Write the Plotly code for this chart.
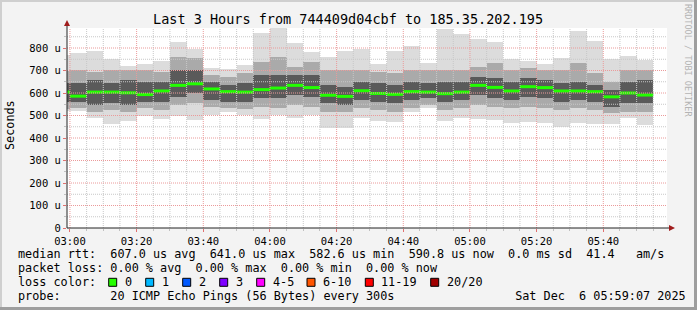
import pandas as pd
import plotly.graph_objects as go

# ---------------- data (microseconds) ----------------
bin_starts = pd.date_range("2025-12-06 02:55", periods=36, freq="5min")
median = [604, 586, 604, 604, 601, 593, 609, 634, 641, 618, 606,
          604, 615, 622, 634, 624, 590, 585, 610, 598, 594,
          606, 604, 597, 604, 634, 625, 609, 628, 624, 609,
          609, 606, 583, 600, 591]
p_max = [770, 776, 788, 750, 721, 730, 744, 828, 796, 712, 706,
         726, 868, 890, 824, 784, 761, 787, 796, 730, 787,
         809, 735, 884, 862, 840, 827, 750, 744, 730, 756,
         876, 831, 751, 766, 745]
p_hi2 = [700, 702, 695, 702, 702, 702, 695, 761, 754, 680, 673,
         687, 739, 761, 717, 739, 702, 702, 702, 695, 687,
         702, 702, 702, 702, 717, 732, 702, 710, 702, 702,
         732, 687, 650, 702, 702]
p_hi1 = [645, 643, 658, 643, 658, 650, 650, 702, 702, 650, 636,
         643, 680, 680, 680, 680, 636, 628, 650, 643, 636,
         650, 643, 650, 650, 673, 665, 650, 665, 658, 643,
         650, 636, 613, 650, 658]
p_lo1 = [560, 561, 547, 554, 547, 561, 561, 584, 599, 569, 561,
         561, 576, 576, 591, 584, 554, 547, 569, 561, 554,
         569, 576, 561, 569, 591, 576, 569, 584, 576, 561,
         569, 561, 539, 554, 554]
p_lo2 = [530, 532, 517, 524, 517, 532, 524, 547, 554, 539, 532,
         527, 539, 532, 547, 539, 517, 517, 532, 524, 517,
         532, 547, 524, 532, 547, 539, 532, 539, 532, 524,
         532, 524, 510, 517, 517]
p_min = [520, 520, 490, 462, 476, 499, 486, 496, 480, 501, 517,
         502, 486, 501, 489, 501, 443, 443, 490, 476, 471,
         517, 532, 476, 490, 486, 480, 468, 471, 468, 449,
         468, 462, 462, 487, 458]

y_tick_vals = [0, 100, 200, 300, 400, 500, 600, 700, 800]
y_tick_text = ["0", "100 u", "200 u", "300 u", "400 u", "500 u", "600 u", "700 u", "800 u"]

title_text = "Last 3 Hours from 744409d04cbf to 185.35.202.195"
loss_labels = ["0", "1", "2", "3", "4-5", "6-10", "11-19", "20/20"]
loss_colors = ["#26ff00", "#00b8ff", "#0059ff", "#7e00ff", "#ff00ff", "#ff5500", "#ff0000", "#a10000"]

row1 = "median rtt:  607.0 us avg  641.0 us max  582.6 us min  590.8 us now  0.0 ms sd  41.4   am/s"
row2 = "packet loss: 0.00 % avg  0.00 % max  0.00 % min  0.00 % now"
row3 = "loss color:"
row4 = "probe:       20 ICMP Echo Pings (56 Bytes) every 300s                 Sat Dec  6 05:59:07 2025"

# ---------------- layout geometry ----------------
W, H = 697, 310
L, T, PW, PH = 67, 28, 600, 200
x_start = pd.Timestamp("2025-12-06 02:59:07")
x_end = pd.Timestamp("2025-12-06 05:59:07")
Y_MAX = 888.9
MONO = "DejaVu Sans Mono"


def px(x):
    return (x - L) / PW


def py(y):
    return (T + PH - y) / PH


centers = bin_starts + pd.Timedelta(seconds=150)
bar_w = 300000  # ms

fig = go.Figure()


def band(lo, hi, color):
    fig.add_trace(go.Bar(
        x=centers, base=lo, y=[h - l for h, l in zip(hi, lo)],
        width=bar_w, marker=dict(color=color, line=dict(width=0)),
        hoverinfo="skip", showlegend=False))


band(p_min, p_max, "#dcdcdc")
band(p_lo2, p_hi2, "#aaaaaa")
band(p_lo1, p_hi1, "#5a5a5a")

mx, my = [], []
for s, m in zip(bin_starts, median):
    mx += [s, s + pd.Timedelta(minutes=5), None]
    my += [m, m, None]
fig.add_trace(go.Scatter(x=mx, y=my, mode="lines",
                         line=dict(color="#22ff00", width=3),
                         hoverinfo="skip", showlegend=False))

shapes = []
# grid above data (rrdtool style)
minor_col = "#c8c8c8"
major_col = "#eb9a9a"
dash = "1px,1px"
t = pd.Timestamp("2025-12-06 03:00")
while t < x_end:
    major = (t.minute % 20 == 0)
    shapes.append(dict(type="line", xref="x", yref="paper", x0=t, x1=t, y0=0, y1=1,
                       line=dict(color=major_col if major else minor_col, width=1, dash=dash),
                       layer="above"))
    t += pd.Timedelta(minutes=5)
for v in range(50, 890, 50):
    major = (v % 100 == 0)
    shapes.append(dict(type="line", xref="paper", yref="y", x0=0, x1=1, y0=v, y1=v,
                       line=dict(color=major_col if major else minor_col, width=1, dash=dash),
                       layer="above"))

# axes lines + arrows
shapes.append(dict(type="line", xref="paper", yref="paper", x0=0, x1=0, y0=0, y1=py(25),
                   line=dict(color="#222222", width=1), layer="above"))
shapes.append(dict(type="line", xref="paper", yref="paper", x0=0, x1=px(670), y0=0, y1=0,
                   line=dict(color="#222222", width=1), layer="above"))
shapes.append(dict(type="path", xref="paper", yref="paper",
                   path=f"M {px(64)},{py(26)} L {px(70)},{py(26)} L {px(67)},{py(20)} Z",
                   fillcolor="#a01c1c", line=dict(width=0), layer="above"))
shapes.append(dict(type="path", xref="paper", yref="paper",
                   path=f"M {px(669)},{py(225)} L {px(669)},{py(231)} L {px(675)},{py(228)} Z",
                   fillcolor="#a01c1c", line=dict(width=0), layer="above"))

# image border (3D frame)
shapes.append(dict(type="rect", xref="paper", yref="paper", x0=px(0), x1=px(W), y0=py(0), y1=py(2),
                   fillcolor="#cfcfcf", line=dict(width=0), layer="above"))
shapes.append(dict(type="rect", xref="paper", yref="paper", x0=px(0), x1=px(2), y0=py(0), y1=py(H),
                   fillcolor="#cfcfcf", line=dict(width=0), layer="above"))
shapes.append(dict(type="rect", xref="paper", yref="paper", x0=px(0), x1=px(W), y0=py(307), y1=py(H),
                   fillcolor="#9e9e9e", line=dict(width=0), layer="above"))
shapes.append(dict(type="rect", xref="paper", yref="paper", x0=px(694), x1=px(W), y0=py(0), y1=py(H),
                   fillcolor="#9e9e9e", line=dict(width=0), layer="above"))

annotations = []


def txt(text, x, y, size=11.8, xanchor="left", color="#000", angle=0):
    annotations.append(dict(text=text.replace(" ", "\u00a0"), x=px(x), y=py(y), xref="paper", yref="paper",
                            xanchor=xanchor, yanchor="middle", showarrow=False, textangle=angle,
                            font=dict(family=MONO, size=size, color=color)))


txt(title_text, 348, 19, size=13.5, xanchor="center")
txt("Seconds", 10, 125, size=11.8, xanchor="center", angle=-90)
txt("RRDTOOL / TOBI OETIKER", 688, 60, size=8.5, xanchor="center", color="#b4b4b4", angle=90)
txt(row1, 16, 254.3)
txt(row2, 16, 268.3)
txt(row3, 16, 282.3)
txt(row4, 16, 296)

box_left = [108.7, 145.7, 182.7, 219.7, 256.7, 307, 365.3, 430.7]
for bl, lab, col in zip(box_left, loss_labels, loss_colors):
    shapes.append(dict(type="rect", xref="paper", yref="paper",
                       x0=px(bl), x1=px(bl + 8), y0=py(278.3), y1=py(286.3),
                       fillcolor=col, line=dict(color="#000000", width=1), layer="above"))
    txt(lab, bl + 14, 282.3)

fig.update_layout(
    width=W, height=H, autosize=False,
    margin=dict(l=L, r=W - L - PW, t=T, b=H - T - PH, pad=0),
    paper_bgcolor="#f3f3f3", plot_bgcolor="#ffffff",
    barmode="overlay", bargap=0,
    shapes=shapes, annotations=annotations,
    showlegend=False,
)
fig.update_xaxes(type="date", range=[x_start, x_end], showgrid=False, zeroline=False, showline=False,
                 tickmode="linear", tick0="2025-12-06 03:00", dtick=20 * 60 * 1000, tickformat="%H:%M",
                 ticks="outside", ticklen=3, tickcolor="#e07070", tickwidth=1,
                 tickfont=dict(family=MONO, size=10.5, color="#000"),
                 minor=dict(dtick=5 * 60 * 1000, ticks="outside", ticklen=2, tickcolor="#c0c0c0", showgrid=False),
                 fixedrange=True)
fig.update_yaxes(range=[0, Y_MAX], showgrid=False, zeroline=False, showline=False,
                 tickmode="array", tickvals=y_tick_vals, ticktext=y_tick_text,
                 ticks="outside", ticklen=3, tickcolor="#e07070", tickwidth=1,
                 tickfont=dict(family=MONO, size=10.5, color="#000"),
                 minor=dict(dtick=50, ticks="outside", ticklen=2, tickcolor="#c0c0c0", showgrid=False),
                 fixedrange=True)

fig.write_html("out.html", config={"displayModeBar": False})
